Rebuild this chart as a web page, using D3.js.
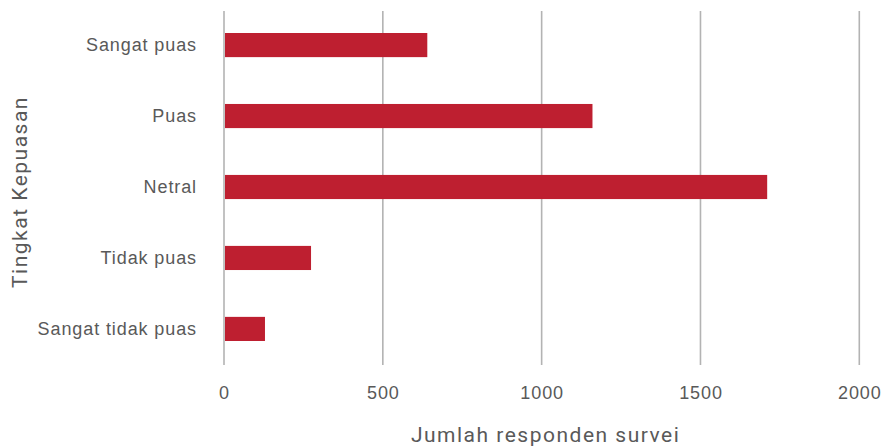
<!DOCTYPE html>
<html>
<head>
<meta charset="utf-8">
<script src="https://cdn.jsdelivr.net/npm/d3@7"></script>
<style>
  html, body { margin: 0; padding: 0; background: #fff; }
  svg { display: block; font-family: Roboto, "Open Sans", sans-serif; }
</style>
</head>
<body>
<svg id="chart" width="884" height="448"></svg>
<script>
// Survey satisfaction levels and respondent counts
const categories = ["Sangat puas", "Puas", "Netral", "Tidak puas", "Sangat tidak puas"];
const respondents = [640, 1160, 1710, 274, 129];
const xTicks = [0, 500, 1000, 1500, 2000];
const xTitle = "Jumlah responden survei";
const yTitle = "Tingkat Kepuasan";

const svg = d3.select("#chart");
const margin = { top: 11, right: 25, bottom: 83, left: 224 };
const height = 448 - margin.top - margin.bottom;

const x = d3.scaleLinear().domain([0, 2000]).range([0, 635.3]);
const y = d3.scaleBand().domain(categories).range([0, height - 2])
  .paddingInner(0.66).paddingOuter(0.31);

const g = svg.append("g").attr("transform", `translate(${margin.left},${margin.top})`);

// vertical gridlines
g.selectAll("line.grid").data(xTicks).join("line")
  .attr("class", "grid")
  .attr("x1", d => x(d)).attr("x2", d => x(d))
  .attr("y1", 0).attr("y2", height)
  .attr("stroke", "#b3b3b3").attr("stroke-width", 1.6);

// bars
g.selectAll("rect.bar").data(categories).join("rect")
  .attr("class", "bar")
  .attr("x", x(0) + 1)
  .attr("y", d => y(d))
  .attr("width", (d, i) => x(respondents[i]) - x(0) - 1)
  .attr("height", y.bandwidth())
  .attr("fill", "#be1f30");

// x axis
const xAxis = g.append("g").attr("transform", `translate(0,${height})`)
  .call(d3.axisBottom(x).tickValues(xTicks).tickFormat(d3.format("d")).tickSize(0).tickPadding(21));
xAxis.select(".domain").remove();
xAxis.selectAll("text").attr("fill", "#595959")
  .style("font-size", "18px").style("letter-spacing", "0.9px");

// y axis
const yAxis = g.append("g")
  .call(d3.axisLeft(y).tickSize(0).tickPadding(27));
yAxis.select(".domain").remove();
yAxis.selectAll("text").attr("fill", "#595959")
  .style("font-size", "18px").style("letter-spacing", "0.9px");

// axis titles
svg.append("text")
  .attr("x", margin.left + x(1000) + 4).attr("y", 442)
  .attr("text-anchor", "middle")
  .attr("fill", "#595959").style("font-size", "21px").style("letter-spacing", "1.5px")
  .text(xTitle);

svg.append("text")
  .attr("transform", `translate(27,${margin.top + height / 2 + 4}) rotate(-90)`)
  .attr("text-anchor", "middle")
  .attr("fill", "#595959").style("font-size", "21px").style("letter-spacing", "1.5px")
  .text(yTitle);
</script>
</body>
</html>
